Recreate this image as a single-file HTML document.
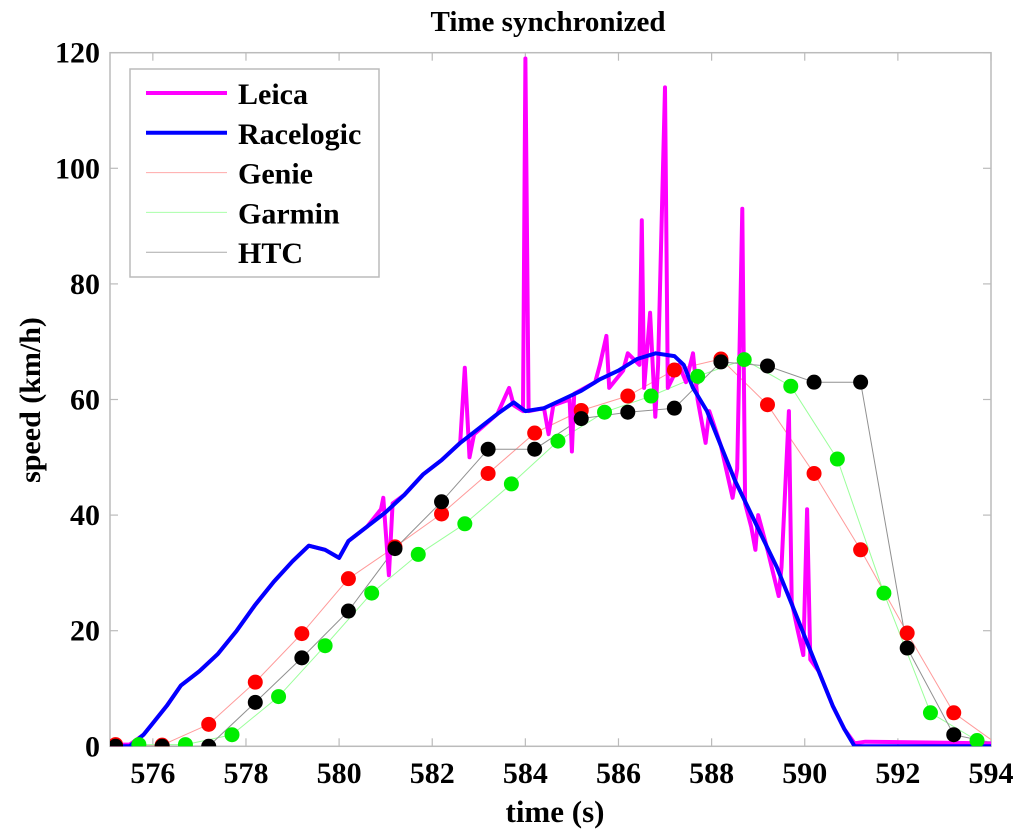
<!DOCTYPE html>
<html><head><meta charset="utf-8"><style>
html,body{margin:0;padding:0;background:#fff;}
svg{display:block;font-family:"Liberation Serif",serif;font-weight:bold;}
</style></head><body>
<svg id="chart" width="1024" height="837" viewBox="0 0 1024 837"></svg>
<script>
const xTicks=[576,578,580,582,584,586,588,590,592,594];
const yTicks=[0,20,40,60,80,100,120];
const raceT=[575.08,575.5,575.8,576,576.3,576.6,577,577.4,577.8,578.2,578.6,579,579.35,579.7,580,580.2,580.6,581,581.4,581.8,582.2,582.6,583,583.4,583.75,584,584.4,584.8,585.2,585.6,586,586.4,586.8,587.2,587.4,587.6,587.9,588.2,588.5,588.8,589.1,589.4,589.7,590,590.3,590.6,590.85,591.07,594];
const raceV=[0,0,2,4,7,10.5,13,16,20,24.5,28.5,32,34.7,34,32.6,35.5,38,40.5,43.5,47,49.5,52.5,55,57.5,59.5,58,58.5,60,61.5,63.5,65,67,68,67.5,66,62,58,52,46,41,36,31,25,19,13,7,3,0,0];
const leicaT=[575.08,575.5,575.8,576,576.3,576.6,577,577.4,577.8,578.2,578.6,579,579.35,579.7,580,580.2,580.6,580.9,580.95,581.07,581.15,581.4,581.8,582.2,582.6,582.7,582.8,582.9,583.4,583.65,583.75,583.95,584.0,584.07,584.4,584.5,584.6,584.95,585.0,585.05,585.5,585.6,585.74,585.8,586.1,586.2,586.45,586.5,586.55,586.68,586.79,586.85,587.0,587.06,587.3,587.45,587.6,587.7,587.87,587.95,588.2,588.45,588.55,588.66,588.72,588.85,588.94,589.0,589.2,589.44,589.5,589.66,589.72,589.85,589.97,590.05,590.12,590.3,590.6,590.85,591.07,591.3,594];
const leicaV=[0.3,0.3,2,4,7,10.5,13,16,20,24.5,28.5,32,34.7,34,32.6,35.5,38,41,43,29.6,42,43.5,47,49.5,52.5,65.5,50,54,57.5,62,59,58,119,58,58.5,54,59,60,51,61,63,66,71,62,65,68,66,91,62,75,57,66,114,62,66,63,68,60,52.5,58,52,43,48,93,42,38,34,40,34,26,31,58,25,20,15.8,41,15,13,7,3,0.5,0.8,0.5];
const genieT=[575.2,576.2,577.2,578.2,579.2,580.2,581.2,582.2,583.2,584.2,585.2,586.2,587.2,588.2,589.2,590.2,591.2,592.2,593.2,594.2];
const genieV=[0.3,0.2,3.8,11.1,19.5,29,34.5,40.2,47.2,54.2,58.1,60.6,65.1,67,59.1,47.2,34,19.6,5.8,0];
const garminT=[575.7,576.7,577.7,578.7,579.7,580.7,581.7,582.7,583.7,584.7,585.7,586.7,587.7,588.7,589.7,590.7,591.7,592.7,593.7,594.7];
const garminV=[0.3,0.3,2,8.6,17.4,26.5,33.2,38.5,45.4,52.8,57.8,60.6,64,66.9,62.3,49.7,26.5,5.8,1,0.3];
const htcT=[575.2,576.2,577.2,578.2,579.2,580.2,581.2,582.2,583.2,584.2,585.2,586.2,587.2,588.2,589.2,590.2,591.2,592.2,593.2,594.2];
const htcV=[0,0,0,7.6,15.3,23.4,34.2,42.3,51.4,51.4,56.7,57.8,58.5,66.5,65.8,63,63,17,2,0.3];

const L=110,R=991,T=52.7,B=746.3,X0=575.08,X1=594,Y0=0,Y1=120;
const sx=t=>L+(t-X0)/(X1-X0)*(R-L);
const sy=v=>B-(v-Y0)/(Y1-Y0)*(B-T);
const NS="http://www.w3.org/2000/svg";
const svg=document.getElementById('chart');
function mk(tag,attrs,parent){const e=document.createElementNS(NS,tag);for(const k in attrs)e.setAttribute(k,attrs[k]);(parent||svg).appendChild(e);return e;}

const defs=mk('defs',{});
const cp=mk('clipPath',{id:'clip'},defs);
mk('rect',{x:L,y:T-2,width:R-L,height:B-T+2},cp);

const box=mk('rect',{x:L,y:T,width:R-L,height:B-T,fill:'none',stroke:'#bbb','stroke-width':1.5});



xTicks.forEach(v=>{
  const x=sx(v);
  mk('line',{x1:x,y1:B,x2:x,y2:B-8,stroke:'#bbb','stroke-width':1.2});
  mk('line',{x1:x,y1:T,x2:x,y2:T+8,stroke:'#bbb','stroke-width':1.2});
  const t=mk('text',{x:Math.min(x,999),y:783,'text-anchor':'middle','font-size':30});
  t.textContent=v;
  
  
});
yTicks.forEach(v=>{
  const y=sy(v);
  mk('line',{x1:L,y1:y,x2:L+8,y2:y,stroke:'#bbb','stroke-width':1.2});
  mk('line',{x1:R,y1:y,x2:R-8,y2:y,stroke:'#bbb','stroke-width':1.2});
  const t=mk('text',{x:100,y:y+10,'text-anchor':'end','font-size':30});
  t.textContent=v;
  
  
});

const g=mk('g',{'clip-path':'url(#clip)'});


function path(ts,vs,color,w,name){
  const d=ts.map((t,i)=>(i?'L':'M')+sx(t).toFixed(1)+','+sy(vs[i]).toFixed(1)).join('');
  const p=mk('path',{d:d,fill:'none',stroke:color,'stroke-width':w,'stroke-linejoin':'round'},g);
  
  
}
function dots(ts,vs,color,name){
  ts.forEach((t,i)=>{
    const c=mk('circle',{cx:sx(t),cy:sy(vs[i]),r:7.5,fill:color},g);
    
    
  });
}
path(genieT,genieV,'#ff9a9a',1,'genie-line');
path(garminT,garminV,'#9aff9a',1,'garmin-line');
path(htcT,htcV,'#909090',1,'htc-line');
path(leicaT,leicaV,'#ff00ff',4,'leica-line');
path(raceT,raceV,'#0000ff',4,'racelogic-line');
dots(genieT,genieV,'#ff0000','genie-point');
dots(garminT,garminV,'#00ee00','garmin-point');
dots(htcT,htcV,'#000000','htc-point');

const lg=mk('g',{});


mk('rect',{x:130,y:69,width:249,height:208,fill:'#fff',stroke:'#bbb','stroke-width':1.5},lg);
const legNames=['Leica','Racelogic','Genie','Garmin','HTC'];
const legCols=['#ff00ff','#0000ff','#ffaaaa','#aaffaa','#aaaaaa'];
const legW=[4,4,1,1,1];
legNames.forEach((n,i)=>{
  const y=93+i*39.8;
  const e=mk('g',{},lg);
  
  
  mk('line',{x1:146,y1:y,x2:227,y2:y,stroke:legCols[i],'stroke-width':legW[i]},e);
  const t=mk('text',{x:238,y:y+11,'font-size':30},e);
  t.textContent=n;
});

const title=mk('text',{x:548,y:31,'text-anchor':'middle','font-size':29});
title.textContent='Time synchronized';


const xl=mk('text',{x:555,y:822,'text-anchor':'middle','font-size':31});
xl.textContent='time (s)';


const yl=mk('text',{x:0,y:0,'text-anchor':'middle','font-size':30,transform:'translate(40,400) rotate(-90)'});
yl.textContent='speed (km/h)';


</script>
</body></html>
